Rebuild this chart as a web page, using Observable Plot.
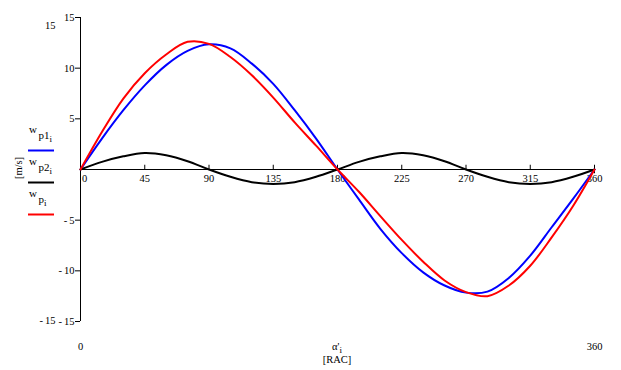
<!DOCTYPE html>
<html>
<head>
<meta charset="utf-8">
<script src="https://cdn.jsdelivr.net/npm/d3@7"></script>
<script src="https://cdn.jsdelivr.net/npm/@observablehq/plot@0.6"></script>
<style>
  html, body { margin: 0; padding: 0; background: #fff; }
  #chart svg { display: block; }
</style>
</head>
<body>
<div id="chart"></div>
<script>
// crank angle, degrees
const deg = [0, 15, 30, 45, 60, 75, 90, 105, 120, 135, 150, 165, 180,
             195, 210, 225, 240, 255, 270, 285, 300, 315, 330, 345, 360];
// w_p1 (blue)
const wp1 = [0, 3.05, 5.85, 8.3, 10.3, 11.7, 12.35, 11.95, 10.45, 8.45, 5.85, 3.05, 0,
             -2.95, -5.85, -8.25, -10.15, -11.45, -12.15, -12.05, -10.7, -8.5, -5.7, -2.9, 0];
// w_p2 (black)
const wp2 = [0, 0.75, 1.3, 1.62, 1.4, 0.82, 0, -0.72, -1.25, -1.42, -1.25, -0.72, 0,
             0.75, 1.3, 1.62, 1.4, 0.82, 0, -0.72, -1.25, -1.42, -1.25, -0.72, 0];
// w_p (red)
const wp = [0, 3.7, 7.0, 9.5, 11.35, 12.6, 12.4, 11.1, 9.3, 7.1, 4.65, 2.35, 0,
            -2.2, -4.6, -6.95, -9.1, -10.95, -12.1, -12.5, -11.45, -9.5, -6.7, -3.6, 0];

const xTicks = [0, 45, 90, 135, 180, 225, 270, 315, 360];
const yTicks = [-15, -10, -5, 5, 10, 15];
const xRange = [0, 360];
const yRange = [-15, 15];

const seriesNames = ["wp1", "wp2", "wp"];
const seriesColors = ["#0000ff", "#000000", "#ff0000"];
const seriesValues = [wp1, wp2, wp];

const rows = [];
seriesNames.forEach((s, k) => deg.forEach((d, i) => rows.push({series: s, deg: d, v: seriesValues[k][i]})));

const fmt = d => d < 0 ? "-\u2009" + Math.abs(d) : String(d);
const font = "'Liberation Serif', 'DejaVu Serif', serif";

const chart = Plot.plot({
  width: 621,
  height: 370,
  marginLeft: 80,
  marginRight: 27,
  marginTop: 17,
  marginBottom: 49,
  style: {fontFamily: font, fontSize: "10.5px", background: "#fff", color: "#000"},
  x: {domain: xRange, axis: null},
  y: {domain: yRange, axis: null},
  color: {domain: seriesNames, range: seriesColors},
  marks: [
    Plot.ruleX([0], {y1: yRange[0], y2: yRange[1], stroke: "#000", strokeWidth: 1}),
    Plot.ruleY([0], {x1: xRange[0], x2: xRange[1], stroke: "#000", strokeWidth: 1}),
    Plot.axisY({ticks: yTicks, anchor: "left", label: null, tickSize: 5, tickPadding: 1, tickFormat: fmt, fontSize: 10.5}),
    Plot.ruleX(xTicks.slice(1), {x: d => d, y1: 0, y2: 0.42, stroke: "#000"}),
    Plot.ruleX([xRange[1]], {x: d => d, y1: 0, y2: -0.42, stroke: "#000"}),
    Plot.text(xTicks.slice(0, 1), {x: d => d, y: 0, dy: 9, dx: 4, text: d => String(d), fontSize: 10.5}),
    Plot.text(xTicks.slice(1), {x: d => d, y: 0, dy: 9, text: d => String(d), fontSize: 10.5}),
    Plot.text([yRange[1]], {x: xRange[0], y: d => d, dx: -25, dy: 8, textAnchor: "end", text: d => String(d), fontSize: 10.5}),
    Plot.text([yRange[0]], {x: xRange[0], y: d => d, dx: -25, dy: -1, textAnchor: "end", text: fmt, fontSize: 10.5}),
    Plot.text(xRange, {x: d => d, y: yRange[0], dy: 25, text: d => String(d), fontSize: 10.5}),
    Plot.line(rows, {x: "deg", y: "v", z: "series", stroke: "series", strokeWidth: 2, curve: "catmull-rom"})
  ]
});

document.getElementById("chart").appendChild(chart);

// legend, axis titles
const svg = d3.select(chart);
const g = svg.append("g").attr("font-family", font).attr("fill", "#000").attr("text-anchor", "start");

const legend = [
  {main: "w", sub: "p1", subsub: "i", y: 133, ly: 150.5, color: seriesColors[0]},
  {main: "w", sub: "p2", subsub: "i", y: 165, ly: 182.5, color: seriesColors[1]},
  {main: "w", sub: "p", subsub: "i", y: 197, ly: 214.5, color: seriesColors[2]}
];
legend.forEach(l => {
  const t = g.append("text").attr("x", 29).attr("y", l.y).attr("font-size", 11).attr("text-anchor", "start");
  t.append("tspan").text(l.main);
  t.append("tspan").attr("dx", 1.5).attr("dy", 6).attr("font-size", 11).text(l.sub);
  t.append("tspan").attr("dy", 2.5).attr("font-size", 9).text(l.subsub);
  g.append("line").attr("x1", 28).attr("x2", 54).attr("y1", l.ly).attr("y2", l.ly)
    .attr("stroke", l.color).attr("stroke-width", 2);
});

g.append("text").attr("transform", "translate(22,168) rotate(-90)")
  .attr("text-anchor", "middle").attr("font-size", 10.5).text("[m/s]");

const xt = g.append("text").attr("x", 337).attr("y", 350).attr("text-anchor", "middle").attr("font-size", 10.5);
xt.append("tspan").text("\u03b1'");
xt.append("tspan").attr("dy", 3).attr("font-size", 9).text("i");
g.append("text").attr("x", 337).attr("y", 363).attr("text-anchor", "middle").attr("font-size", 10.5).text("[RAC]");
</script>
</body>
</html>
